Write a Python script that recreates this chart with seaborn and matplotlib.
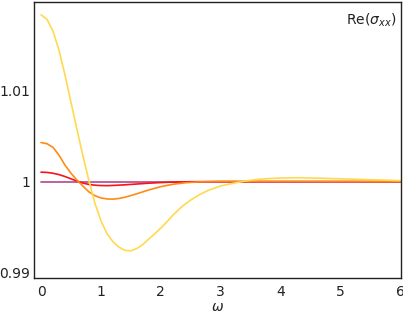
import numpy as np
import pandas as pd
import seaborn as sns
import matplotlib
matplotlib.use('Agg')
import matplotlib.pyplot as plt

# values
omega_flat = [0.0, 6.0]
sigma_flat = [1.0, 1.0]

omega_red = [0.0, 0.1, 0.2, 0.3, 0.4, 0.5, 0.6, 0.7, 0.8, 0.9, 1.0, 1.1, 1.2,
             1.4, 1.6, 1.8, 2.0, 2.2, 2.5, 3.0, 4.0, 5.0, 6.0]
sigma_red = [1.00103, 1.00100, 1.00091, 1.00076, 1.00055, 1.00030, 1.00005,
             0.99983, 0.99968, 0.99960, 0.99956, 0.99955, 0.99957, 0.99964,
             0.99973, 0.99982, 0.99989, 0.99994, 0.99998, 1.0, 1.0, 1.0, 1.0]

omega_orange = [0.0, 0.1, 0.2, 0.3, 0.4, 0.5, 0.6, 0.7, 0.8, 0.9, 1.0, 1.1,
                1.2, 1.3, 1.4, 1.5, 1.6, 1.8, 2.0, 2.2, 2.4, 2.6, 2.8, 3.0,
                4.0, 5.0, 6.0]
sigma_orange = [1.00428, 1.00415, 1.00375, 1.00290, 1.00180, 1.00092, 1.00015,
                0.99950, 0.99886, 0.99845, 0.99820, 0.99809, 0.99807, 0.99814,
                0.99828, 0.99846, 0.99866, 0.99908, 0.99944, 0.99970, 0.99986,
                0.99995, 0.99999, 1.00001, 1.00001, 1.0, 1.0]

omega_yellow = [0.0, 0.1, 0.2, 0.3, 0.4, 0.5, 0.6, 0.7, 0.8, 0.9, 1.0, 1.1,
                1.2, 1.3, 1.4, 1.5, 1.6, 1.7, 1.8, 1.9, 2.0, 2.1, 2.2, 2.35,
                2.5, 2.65, 2.8, 3.0, 3.2, 3.4, 3.6, 3.8, 4.0, 4.3, 4.6, 5.0,
                5.5, 6.0]
sigma_yellow = [1.0183, 1.0178, 1.0165, 1.0144, 1.0117, 1.0087, 1.0057, 1.0028,
                1.0001, 0.9976, 0.9957, 0.9943, 0.9934, 0.9928, 0.99245, 0.9924,
                0.99265, 0.9931, 0.9937, 0.99428, 0.9949, 0.99558, 0.9963,
                0.99725, 0.99798, 0.99858, 0.99905, 0.99952, 0.9998, 1.00005,
                1.00022, 1.00033, 1.00039, 1.00042, 1.00038, 1.0003, 1.0002,
                1.0001]

xticks = [0, 1, 2, 3, 4, 5, 6]
yticks = [0.99, 1.0, 1.01]
ytick_labels = ['0.99', '1', '1.01']

frames = []
for name, om, sg in [('flat', omega_flat, sigma_flat),
                     ('red', omega_red, sigma_red),
                     ('orange', omega_orange, sigma_orange),
                     ('yellow', omega_yellow, sigma_yellow)]:
    frames.append(pd.DataFrame({'omega': om, 'sigma': sg, 'curve': name}))
df = pd.concat(frames, ignore_index=True)

palette = {'flat': '#b8478a', 'red': '#f5141a', 'orange': '#ff8a14',
           'yellow': '#ffd94f'}

sns.set_style('white')
fig = plt.figure(figsize=(4.03, 3.19), dpi=100)
ax = fig.add_axes([0.0844, 0.1295, 0.9094, 0.8642])

sns.lineplot(data=df, x='omega', y='sigma', hue='curve', palette=palette,
             hue_order=['flat', 'red', 'orange', 'yellow'], linewidth=1.2,
             legend=False, ax=ax, sort=False)

ax.set_xlim(-0.117, 6.0)
ax.set_ylim(0.98945, 1.0197)
ax.set_xticks(xticks)
ax.set_xticklabels([str(t) for t in xticks])
ax.set_yticks(yticks)
ax.set_yticklabels(ytick_labels)
ax.tick_params(direction='in', length=2, width=0.8, colors='#222222',
               labelsize=10)
ax.tick_params(axis='x', pad=5)
ax.tick_params(axis='y', pad=3)
for s in ax.spines.values():
    s.set_color('#222222')
    s.set_linewidth(1.0)
ax.set_xlabel(r'$\omega$', fontsize=10, labelpad=1, color='#222222')
ax.set_ylabel('')
ax.text(0.988, 0.965, r'Re($\sigma_{xx}$)', transform=ax.transAxes,
        ha='right', va='top', fontsize=10, color='#222222')

fig.savefig('out.png', dpi=100)
